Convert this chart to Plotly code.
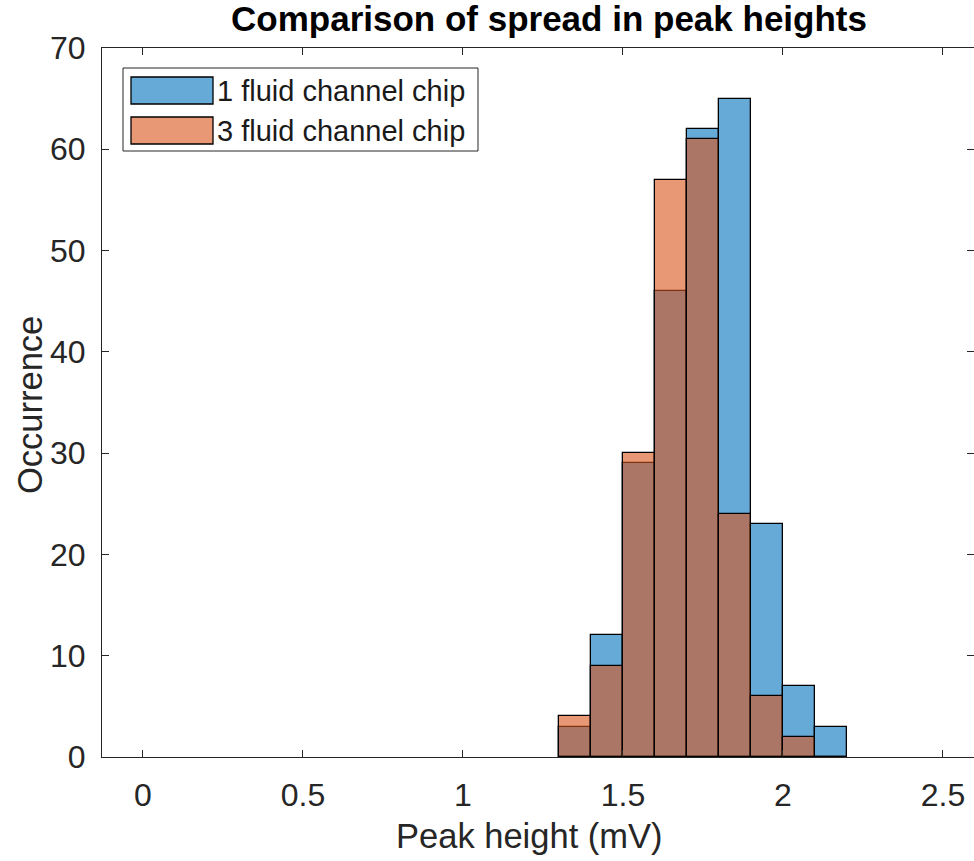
import plotly.graph_objects as go

# ---- data ----
bin_edges = [1.3, 1.4, 1.5, 1.6, 1.7, 1.8, 1.9, 2.0, 2.1, 2.2]
counts_1ch = [3, 12, 29, 46, 62, 65, 23, 7, 3]
counts_3ch = [4, 9, 30, 57, 61, 24, 6, 2, 0]
series_names = ["1 fluid channel chip", "3 fluid channel chip"]
x_ticks = [0, 0.5, 1, 1.5, 2, 2.5]
x_tick_labels = ["0", "0.5", "1", "1.5", "2", "2.5"]
y_ticks = [0, 10, 20, 30, 40, 50, 60, 70]

# ---- style ----
W, H = 974, 861
L, R, T, B = 102, 974, 48, 757  # plot area in pixels
blue = "rgba(0,114,189,0.6)"
orange = "rgba(217,83,25,0.6)"
axcol = "#262626"
font = "Liberation Sans, Arial, Helvetica, sans-serif"

centers = [(a + b) / 2 for a, b in zip(bin_edges[:-1], bin_edges[1:])]
widths = [b - a for a, b in zip(bin_edges[:-1], bin_edges[1:])]

fig = go.Figure()
for counts, col, name in [(counts_1ch, blue, series_names[0]), (counts_3ch, orange, series_names[1])]:
    fig.add_trace(go.Bar(
        x=centers, y=counts, width=widths, name=name,
        marker=dict(color=col, line=dict(color="black", width=1.3)),
        showlegend=False,
    ))

def px(x):
    return (x - L) / (R - L)

def py(y):
    return (B - y) / (B - T)

# custom legend (MATLAB-style wide swatches)
shapes = [dict(type="rect", xref="paper", yref="paper", x0=px(123), x1=px(478), y0=py(151), y1=py(68),
               line=dict(color=axcol, width=1), fillcolor="white", layer="above")]
annotations = []
for i, (col, name) in enumerate([(blue, series_names[0]), (orange, series_names[1])]):
    top = 77 + 40 * i
    shapes.append(dict(type="rect", xref="paper", yref="paper", x0=px(131), x1=px(213), y0=py(top + 27), y1=py(top),
                       line=dict(color="black", width=1.3), fillcolor=col, layer="above"))
    annotations.append(dict(text=name, xref="paper", yref="paper", x=px(215), y=py(top + 14),
                            xanchor="left", yanchor="middle", showarrow=False,
                            font=dict(family=font, size=29, color="#1a1a1a")))

annotations.append(dict(text="Peak height (mV)", xref="paper", yref="paper", x=px(529), y=py(836),
                        xanchor="center", yanchor="middle", showarrow=False,
                        font=dict(family=font, size=34.5, color=axcol)))
annotations.append(dict(text="Occurrence", xref="paper", yref="paper", x=px(30), y=py(405),
                        xanchor="center", yanchor="middle", showarrow=False, textangle=-90,
                        font=dict(family=font, size=34.5, color=axcol)))

fig.update_layout(
    width=W, height=H,
    margin=dict(l=L, r=W - R, t=T, b=H - B, pad=0),
    barmode="overlay", bargap=0,
    plot_bgcolor="white", paper_bgcolor="white",
    title=dict(text="<b>Comparison of spread in peak heights</b>", x=549 / W, y=1 - 19 / H,
               xanchor="center", yanchor="middle", font=dict(family=font, size=35, color="black")),
    shapes=shapes, annotations=annotations,
    showlegend=False,
)
fig.update_xaxes(
    range=[-0.128, 2.597], tickvals=x_ticks, ticktext=x_tick_labels,
    ticks="inside", ticklen=7, tickcolor=axcol, tickwidth=1,
    showline=True, linecolor=axcol, linewidth=1, mirror="ticks",
    showgrid=False, zeroline=False, ticklabelstandoff=10,
    tickfont=dict(family=font, size=32, color=axcol),
)
fig.update_yaxes(
    range=[0, 70], tickvals=y_ticks,
    ticks="inside", ticklen=7, tickcolor=axcol, tickwidth=1,
    showline=True, linecolor=axcol, linewidth=1, mirror="ticks",
    showgrid=False, zeroline=False, ticklabelstandoff=9,
    tickfont=dict(family=font, size=32, color=axcol),
)

fig.write_html("out.html")
